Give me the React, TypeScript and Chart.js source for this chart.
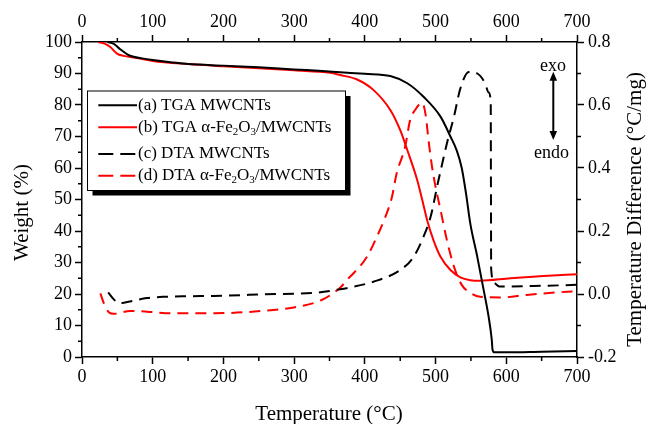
import React, { useEffect, useRef } from "react";
import { Chart, registerables } from "chart.js";

Chart.register(...registerables);

// ---------- data ----------
const TEMP_TGA_A = [36, 45, 54, 64, 73, 85, 100, 125, 150, 200, 250, 300, 340, 365, 400, 436, 460, 483, 507, 521, 530, 537, 543, 549, 559, 568, 575, 579.5, 580.5, 583, 600, 650, 700];
const TGA_A = [100, 99.4, 97.7, 96.1, 95.3, 94.8, 94.3, 93.6, 93, 92.5, 92, 91.3, 90.8, 90.4, 89.9, 89.2, 86.9, 82.6, 76.3, 70, 65.5, 60, 52, 42.5, 31.8, 21.3, 12.8, 5.4, 2.4, 1.5, 1.5, 1.7, 1.9];

const TEMP_TGA_B = [23, 32, 40, 49.5, 59, 73, 100, 150, 200, 250, 300, 351, 365, 389, 412, 436, 450, 460, 474, 481, 488, 497, 507, 521, 535, 549, 563, 606, 653, 700];
const TGA_B = [100, 99.5, 98.4, 96.3, 95.6, 95.1, 94, 93, 92.3, 91.7, 91, 90.2, 89.5, 88.1, 84.8, 78.4, 72, 65.7, 56.2, 50, 43.5, 37.1, 31.8, 27.6, 25.3, 24.4, 24.2, 25, 25.7, 26.3];

const TEMP_DTA_C = [37, 45, 52, 59, 73, 92, 115, 150, 186, 259, 330, 365, 377, 412, 450, 469, 483, 493, 498, 502, 507, 516, 526, 535, 547, 559, 570, 575, 578, 578.3, 578.6, 583, 590, 600, 650, 700];
const DTA_C = [0.005, -0.017, -0.029, -0.028, -0.021, -0.013, -0.009, -0.007, -0.006, -0.001, 0.004, 0.015, 0.02, 0.039, 0.076, 0.118, 0.182, 0.245, 0.295, 0.34, 0.39, 0.478, 0.563, 0.652, 0.705, 0.7, 0.669, 0.64, 0.61, 0.35, 0.08, 0.035, 0.024, 0.024, 0.026, 0.029];

const TEMP_DTA_D = [26, 31, 38, 45, 68, 92, 125, 188, 259, 306, 339, 365, 377, 384, 403, 417, 429, 438, 445, 457, 464, 471, 481, 486, 490, 495, 500, 507, 516, 526, 537, 547, 563, 592, 629, 686, 700];
const DTA_D = [0.002, -0.03, -0.058, -0.063, -0.054, -0.056, -0.061, -0.061, -0.053, -0.04, -0.019, 0.02, 0.05, 0.066, 0.118, 0.182, 0.245, 0.305, 0.383, 0.468, 0.552, 0.584, 0.607, 0.568, 0.489, 0.404, 0.34, 0.267, 0.171, 0.087, 0.029, 0.007, -0.009, -0.011, -0.003, 0.007, 0.008];

const LEGEND_LABELS = ["(a) TGA MWCNTs", "(b) TGA α-Fe_2O_3/MWCNTs", "(c) DTA MWCNTs", "(d) DTA α-Fe_2O_3/MWCNTs"];
const SERIES_LABELS = ["(a) TGA MWCNTs", "(b) TGA α-Fe₂O₃/MWCNTs", "(c) DTA MWCNTs", "(d) DTA α-Fe₂O₃/MWCNTs"];
const X_MINOR_TICKS = [50, 150, 250, 350, 450, 550, 650];
const Y_MINOR_TICKS = [5, 15, 25, 35, 45, 55, 65, 75, 85, 95];
const Y2_MINOR_TICKS = [-0.1, 0.1, 0.3, 0.5, 0.7];

const X_TITLE = "Temperature (°C)";
const Y_TITLE = "Weight (%)";
const Y2_TITLE = "Temperature Difference (°C/mg)";

const FONT = "'Liberation Serif', 'Times New Roman', serif";
const RED = "#ff0000";
const BLACK = "#000000";
const DASH = [11, 7];

function toPoints(xs: number[], ys: number[]) {
  return xs.map((x, i) => ({ x, y: ys[i] }));
}

function drawRich(ctx: CanvasRenderingContext2D, x: number, y: number, text: string, size: number) {
  const parts: { t: string; sub: boolean }[] = [];
  let buf = "";
  for (let i = 0; i < text.length; i++) {
    if (text[i] === "_" && i + 1 < text.length) {
      if (buf) parts.push({ t: buf, sub: false });
      buf = "";
      parts.push({ t: text[i + 1], sub: true });
      i++;
    } else buf += text[i];
  }
  if (buf) parts.push({ t: buf, sub: false });
  let cx = x;
  for (const p of parts) {
    if (p.sub) {
      ctx.font = `${Math.round(size * 0.62)}px ${FONT}`;
      ctx.fillText(p.t, cx, y + size * 0.28);
    } else {
      ctx.font = `${size}px ${FONT}`;
      ctx.fillText(p.t, cx, y);
    }
    cx += ctx.measureText(p.t).width;
  }
}

const overlayPlugin = {
  id: "overlay",
  afterDraw(chart: any) {
    const ctx: CanvasRenderingContext2D = chart.ctx;
    const { x, y, y2 } = chart.scales;
    const a = chart.chartArea;
    const MINOR = 4;
    ctx.save();
    // minor ticks
    ctx.strokeStyle = BLACK;
    ctx.lineWidth = 1.5;
    ctx.setLineDash([]);
    ctx.beginPath();
    for (const v of X_MINOR_TICKS) {
      const px = x.getPixelForValue(v);
      ctx.moveTo(px, a.bottom);
      ctx.lineTo(px, a.bottom + MINOR);
      ctx.moveTo(px, a.top);
      ctx.lineTo(px, a.top - MINOR);
    }
    for (const v of Y_MINOR_TICKS) {
      const py = y.getPixelForValue(v);
      ctx.moveTo(a.left, py);
      ctx.lineTo(a.left - MINOR, py);
    }
    for (const v of Y2_MINOR_TICKS) {
      const py = y2.getPixelForValue(v);
      ctx.moveTo(a.right, py);
      ctx.lineTo(a.right + MINOR, py);
    }
    ctx.stroke();

    // legend box with shadow
    const bx = 87.5, by = 91, bw = 258, bh = 99.5;
    ctx.fillStyle = BLACK;
    ctx.fillRect(bx + 5, by + 5, bw, bh);
    ctx.fillStyle = "#ffffff";
    ctx.fillRect(bx, by, bw, bh);
    ctx.lineWidth = 1;
    ctx.strokeStyle = BLACK;
    ctx.strokeRect(bx, by, bw, bh);
    const rows = [105.3, 127.3, 154, 175.7];
    const colors = [BLACK, RED, BLACK, RED];
    const dashed = [false, false, true, true];
    rows.forEach((ry, i) => {
      ctx.beginPath();
      ctx.strokeStyle = colors[i];
      ctx.lineWidth = 2;
      ctx.setLineDash(dashed[i] ? [15, 7] : []);
      ctx.moveTo(98.3, ry);
      ctx.lineTo(137, ry);
      ctx.stroke();
      ctx.setLineDash([]);
      ctx.fillStyle = BLACK;
      ctx.textAlign = "left";
      ctx.textBaseline = "middle";
      drawRich(ctx, 138, ry, LEGEND_LABELS[i], 17);
    });

    // exo / endo annotation
    ctx.fillStyle = BLACK;
    ctx.textAlign = "center";
    ctx.textBaseline = "alphabetic";
    ctx.font = `18px ${FONT}`;
    ctx.fillText("exo", 553, 70.5);
    ctx.fillText("endo", 551.5, 157.5);
    const ax = 553.3, top = 71.7, bot = 140;
    ctx.strokeStyle = BLACK;
    ctx.lineWidth = 2;
    ctx.beginPath();
    ctx.moveTo(ax, top + 6);
    ctx.lineTo(ax, bot - 6);
    ctx.stroke();
    ctx.beginPath();
    ctx.moveTo(ax, top);
    ctx.lineTo(ax - 3.8, top + 9);
    ctx.lineTo(ax + 3.8, top + 9);
    ctx.closePath();
    ctx.fill();
    ctx.beginPath();
    ctx.moveTo(ax, bot);
    ctx.lineTo(ax - 3.8, bot - 9);
    ctx.lineTo(ax + 3.8, bot - 9);
    ctx.closePath();
    ctx.fill();

    // axis titles
    ctx.font = `21px ${FONT}`;
    ctx.textAlign = "center";
    ctx.textBaseline = "alphabetic";
    ctx.fillText(X_TITLE, 329, 419.5);
    ctx.save();
    ctx.translate(28, 212.5);
    ctx.rotate(-Math.PI / 2);
    ctx.fillText(Y_TITLE, 0, 0);
    ctx.restore();
    ctx.save();
    ctx.translate(640.5, 209.5);
    ctx.rotate(-Math.PI / 2);
    ctx.fillText(Y2_TITLE, 0, 0);
    ctx.restore();
    ctx.restore();
  },
};

export default function App() {
  const ref = useRef<HTMLCanvasElement | null>(null);
  useEffect(() => {
    if (!ref.current) return;
    Chart.defaults.font.family = FONT;
    Chart.defaults.color = BLACK;
    const tickFont = { family: FONT, size: 18 };
    const gridCommon = { drawOnChartArea: false, drawTicks: true, tickLength: 7, color: BLACK, tickWidth: 1.5 };
    const borderCommon = { display: true, color: BLACK, width: 1.5 };
    const chart = new Chart(ref.current, {
      type: "line",
      data: {
        datasets: [
          { label: SERIES_LABELS[0], data: toPoints(TEMP_TGA_A, TGA_A), borderColor: BLACK, borderWidth: 2, yAxisID: "y", xAxisID: "x" },
          { label: SERIES_LABELS[1], data: toPoints(TEMP_TGA_B, TGA_B), borderColor: RED, borderWidth: 2, yAxisID: "y", xAxisID: "x" },
          { label: SERIES_LABELS[2], data: toPoints(TEMP_DTA_C, DTA_C), borderColor: BLACK, borderWidth: 2, borderDash: DASH, yAxisID: "y2", xAxisID: "x" },
          { label: SERIES_LABELS[3], data: toPoints(TEMP_DTA_D, DTA_D), borderColor: RED, borderWidth: 2, borderDash: DASH, yAxisID: "y2", xAxisID: "x" },
        ],
      },
      options: {
        animation: false,
        responsive: false,
        devicePixelRatio: 1,
        layout: { padding: 0 },
        elements: { point: { radius: 0 }, line: { cubicInterpolationMode: "monotone", fill: false } },
        plugins: { legend: { display: false }, tooltip: { enabled: false } },
        scales: {
          x: {
            type: "linear", position: "bottom", min: 0, max: 700,
            ticks: { stepSize: 100, font: tickFont, color: BLACK, padding: 2, maxRotation: 0 },
            grid: gridCommon, border: borderCommon,
            afterFit: (s: any) => { s.height = 67; },
          },
          x2: {
            type: "linear", position: "top", min: 0, max: 700,
            ticks: { stepSize: 100, font: tickFont, color: BLACK, padding: 2, maxRotation: 0 },
            grid: gridCommon, border: borderCommon,
            afterFit: (s: any) => { s.height = 42; },
          },
          y: {
            type: "linear", position: "left", min: 0, max: 100,
            ticks: { stepSize: 10, font: tickFont, color: BLACK, padding: 3 },
            grid: gridCommon, border: borderCommon,
            afterFit: (s: any) => { s.width = 82; },
          },
          y2: {
            type: "linear", position: "right", min: -0.2, max: 0.8,
            ticks: { stepSize: 0.2, font: tickFont, color: BLACK, padding: 4, callback: (v: any) => Number(v).toFixed(1) },
            grid: gridCommon, border: borderCommon,
            afterFit: (s: any) => { s.width = 69; },
          },
        },
      } as any,
      plugins: [overlayPlugin],
    });
    return () => chart.destroy();
  }, []);
  return (
    <div style={{ position: "absolute", left: 0, top: 0, width: 646, height: 424, background: "#fff" }}>
      <canvas ref={ref} width={646} height={424} style={{ display: "block" }} />
    </div>
  );
}
